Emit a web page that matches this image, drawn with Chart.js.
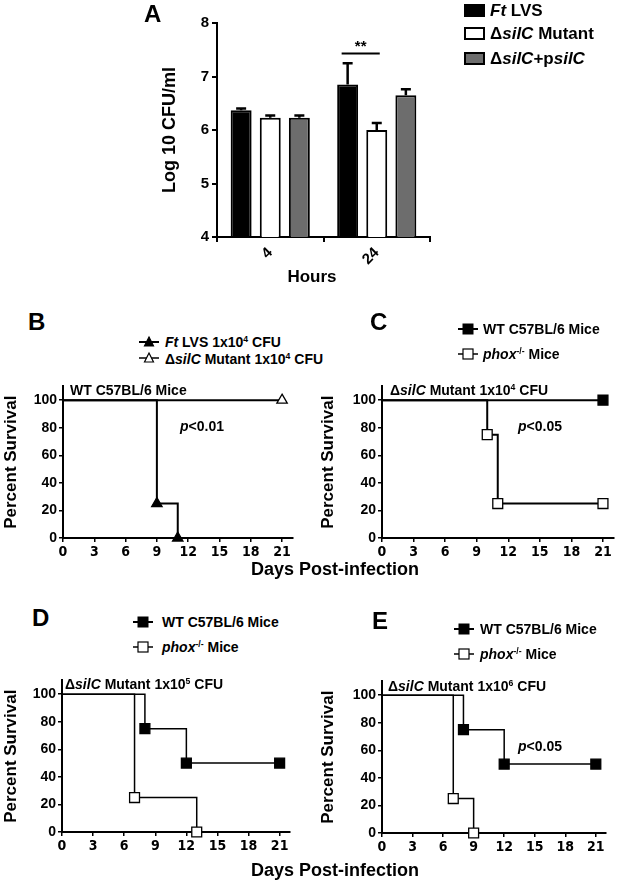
<!DOCTYPE html>
<html>
<head>
<meta charset="utf-8">
<script src="https://cdn.jsdelivr.net/npm/chart.js@4.4.1/dist/chart.umd.min.js"></script>
<style>
  body { margin: 0; background: #fff; }
  #page { position: relative; width: 625px; height: 883px; overflow: hidden;
          font-family: "Liberation Sans", Arial, sans-serif; font-weight: bold; color: #000; }
  canvas { position: absolute; }
  .t { position: absolute; white-space: nowrap; line-height: 1; transform: translateY(-50%); }
  .c { transform: translate(-50%, -50%); }
  .big { font-size: 24px; }
  .lg { font-size: 14px; }
  sup { font-size: 0.62em; vertical-align: 0.55em; line-height: 0; }
  .key { position: absolute; }
  .swatch { position: absolute; width: 21px; height: 13px; border: 2px solid #000; box-sizing: border-box; }
</style>
</head>
<body>
<div id="page">
  <canvas id="chartA" width="300" height="280" style="left:140px; top:10px"></canvas>
  <canvas id="chartB" width="300" height="190" style="left:0px; top:376px"></canvas>
  <canvas id="chartC" width="315" height="190" style="left:310px; top:376px"></canvas>
  <canvas id="chartD" width="300" height="190" style="left:0px; top:670px"></canvas>
  <canvas id="chartE" width="315" height="190" style="left:310px; top:671px"></canvas>

  <!-- panel A -->
  <div class="t big" style="left:144px; top:14px">A</div>
  <div class="swatch" style="left:464px; top:4px; background:#000"></div>
  <div class="t" style="left:490px; top:10px; font-size:17px"><i>Ft</i> LVS</div>
  <div class="swatch" style="left:464px; top:27px; background:#fff"></div>
  <div class="t" style="left:490px; top:33px; font-size:17px">Δ<i>silC</i> Mutant</div>
  <div class="swatch" style="left:464px; top:52px; background:#6d6d6d"></div>
  <div class="t" style="left:490px; top:58px; font-size:17px">Δ<i>silC</i>+p<i>silC</i></div>
  <div class="t c" style="left:312px; top:276px; font-size:17px">Hours</div>

  <!-- panel B -->
  <div class="t big" style="left:28px; top:322px">B</div>
  <svg class="key" style="left:139px; top:335px" width="20" height="14"><line x1="0" y1="7" x2="20" y2="7" stroke="#000" stroke-width="2"/><polygon points="10,2 14.5,11 5.5,11" fill="#000" stroke="#000" stroke-width="1.2"/></svg>
  <div class="t lg" style="left:165px; top:342px"><i>Ft</i> LVS 1x10<sup>4</sup> CFU</div>
  <svg class="key" style="left:139px; top:351px" width="20" height="14"><line x1="0" y1="7" x2="20" y2="7" stroke="#000" stroke-width="1.5"/><polygon points="10,2 14.5,11 5.5,11" fill="#fff" stroke="#000" stroke-width="1.2"/></svg>
  <div class="t lg" style="left:165px; top:359px">Δ<i>silC</i> Mutant 1x10<sup>4</sup> CFU</div>
  <div class="t lg" style="left:70px; top:390px">WT C57BL/6 Mice</div>
  <div class="t lg" style="left:180px; top:426px"><i>p</i>&lt;0.01</div>

  <!-- panel C -->
  <div class="t big" style="left:370px; top:322px">C</div>
  <svg class="key" style="left:458px; top:322px" width="20" height="14"><line x1="0" y1="7" x2="20" y2="7" stroke="#000" stroke-width="2"/><rect x="5" y="2" width="10" height="10" fill="#000" stroke="#000"/></svg>
  <div class="t lg" style="left:483px; top:329px">WT C57BL/6 Mice</div>
  <svg class="key" style="left:458px; top:347px" width="20" height="14"><line x1="0" y1="7" x2="20" y2="7" stroke="#000" stroke-width="1.5"/><rect x="5" y="2" width="10" height="10" fill="#fff" stroke="#000" stroke-width="1.2"/></svg>
  <div class="t lg" style="left:483px; top:354px"><i>phox</i><sup>-/-</sup> Mice</div>
  <div class="t lg" style="left:390px; top:390px">Δ<i>silC</i> Mutant 1x10<sup>4</sup> CFU</div>
  <div class="t lg" style="left:518px; top:426px"><i>p</i>&lt;0.05</div>
  <div class="t c" style="left:335px; top:569px; font-size:18px">Days Post-infection</div>

  <!-- panel D -->
  <div class="t big" style="left:32px; top:618px">D</div>
  <svg class="key" style="left:133px; top:615px" width="20" height="14"><line x1="0" y1="7" x2="20" y2="7" stroke="#000" stroke-width="2"/><rect x="5" y="2" width="10" height="10" fill="#000" stroke="#000"/></svg>
  <div class="t lg" style="left:162px; top:622px">WT C57BL/6 Mice</div>
  <svg class="key" style="left:133px; top:640px" width="20" height="14"><line x1="0" y1="7" x2="20" y2="7" stroke="#000" stroke-width="1.5"/><rect x="5" y="2" width="10" height="10" fill="#fff" stroke="#000" stroke-width="1.2"/></svg>
  <div class="t lg" style="left:162px; top:647px"><i>phox</i><sup>-/-</sup> Mice</div>
  <div class="t lg" style="left:65px; top:684px">Δ<i>silC</i> Mutant 1x10<sup>5</sup> CFU</div>

  <!-- panel E -->
  <div class="t big" style="left:372px; top:621px">E</div>
  <svg class="key" style="left:454px; top:622px" width="20" height="14"><line x1="0" y1="7" x2="20" y2="7" stroke="#000" stroke-width="2"/><rect x="5" y="2" width="10" height="10" fill="#000" stroke="#000"/></svg>
  <div class="t lg" style="left:480px; top:629px">WT C57BL/6 Mice</div>
  <svg class="key" style="left:454px; top:647px" width="20" height="14"><line x1="0" y1="7" x2="20" y2="7" stroke="#000" stroke-width="1.5"/><rect x="5" y="2" width="10" height="10" fill="#fff" stroke="#000" stroke-width="1.2"/></svg>
  <div class="t lg" style="left:480px; top:654px"><i>phox</i><sup>-/-</sup> Mice</div>
  <div class="t lg" style="left:388px; top:686px">Δ<i>silC</i> Mutant 1x10<sup>6</sup> CFU</div>
  <div class="t lg" style="left:518px; top:746px"><i>p</i>&lt;0.05</div>
  <div class="t c" style="left:335px; top:870px; font-size:18px">Days Post-infection</div>
</div>

<script>
// -----------------------------
// Panel A data (log10 CFU/ml)
// -----------------------------
const hours = ["4", "24"];
const lvsMean = [6.37, 6.85];
const lvsErr = [0.03, 0.40];
const mutMean = [6.23, 6.0];
const mutErr = [0.04, 0.13];
const compMean = [6.23, 6.65];
const compErr = [0.04, 0.11];
const cfuTicks = [4, 5, 6, 7, 8];
const sigLevel = 7.43;

// -----------------------------
// Survival data (day, percent)
// -----------------------------
const dayTicks = [0, 3, 6, 9, 12, 15, 18, 21];
const pctTicks = [0, 20, 40, 60, 80, 100];

const bLvsDays = [0, 9, 11],  bLvsPct = [100, 25, 0];
const bMutDays = [0, 21],     bMutPct = [100, 100];
const cWtDays = [0, 21],      cWtPct = [100, 100];
const cPhoxDays = [0, 10, 11, 21], cPhoxPct = [100, 75, 25, 25];
const dWtDays = [0, 8, 12, 21],    dWtPct = [100, 75, 50, 50];
const dPhoxDays = [0, 7, 13],      dPhoxPct = [100, 25, 0];
const eWtDays = [0, 8, 12, 21],    eWtPct = [100, 75, 50, 50];
const ePhoxDays = [0, 7, 9],       ePhoxPct = [100, 25, 0];

const FONT = "'Liberation Sans', Arial, sans-serif";
const NARROW = "'Liberation Sans Narrow', 'Arial Narrow', 'DejaVu Sans Condensed', Arial, sans-serif";

// -----------------------------
// Error bars + significance bar
// -----------------------------
const errorBars = {
  id: "errorBars",
  afterDatasetsDraw(chart) {
    const ctx = chart.ctx;
    const y = chart.scales.y;
    ctx.save();
    ctx.strokeStyle = "#000";
    ctx.lineWidth = 2.5;
    chart.data.datasets.forEach((ds, i) => {
      chart.getDatasetMeta(i).data.forEach((bar, j) => {
        const top = y.getPixelForValue(ds.data[j] + ds.errors[j]);
        ctx.beginPath();
        ctx.moveTo(bar.x, bar.y);
        ctx.lineTo(bar.x, top);
        ctx.moveTo(bar.x - 5, top);
        ctx.lineTo(bar.x + 5, top);
        ctx.stroke();
      });
    });

    // ** between Ft LVS and mutant at 24 h
    const b0 = chart.getDatasetMeta(0).data[1];
    const b1 = chart.getDatasetMeta(1).data[1];
    const ly = y.getPixelForValue(sigLevel);
    const x1 = b0.x - 6, x2 = b1.x + 3;
    ctx.lineWidth = 2;
    ctx.beginPath();
    ctx.moveTo(x1, ly);
    ctx.lineTo(x2, ly);
    ctx.stroke();
    ctx.fillStyle = "#000";
    ctx.font = "bold 15px " + FONT;
    ctx.textAlign = "center";
    ctx.textBaseline = "alphabetic";
    ctx.fillText("**", (x1 + x2) / 2, ly - 2);
    ctx.restore();
  }
};

function barSet(label, data, errors, fill) {
  return {
    label, data, errors,
    backgroundColor: fill,
    borderColor: "#000",
    borderWidth: 2,
    categoryPercentage: 0.82,
    barPercentage: 0.72
  };
}

new Chart(document.getElementById("chartA"), {
  type: "bar",
  data: {
    labels: hours,
    datasets: [
      barSet("Ft LVS", lvsMean, lvsErr, "#000"),
      barSet("ΔsilC Mutant", mutMean, mutErr, "#fff"),
      barSet("ΔsilC+psilC", compMean, compErr, "#6d6d6d")
    ]
  },
  options: {
    responsive: false,
    animation: false,
    layout: { padding: { top: 13, right: 10, left: 0, bottom: 0 } },
    plugins: { legend: { display: false }, tooltip: { enabled: false } },
    scales: {
      x: {
        grid: { display: true, drawOnChartArea: false, color: "#000", lineWidth: 2, tickLength: 5 },
        border: { color: "#000", width: 2 },
        ticks: { color: "#000", minRotation: 45, maxRotation: 45, padding: 2,
                 font: { family: FONT, size: 15, weight: "bold" } },
        afterFit: s => { s.height = 53; }
      },
      y: {
        min: 4, max: 8,
        afterBuildTicks: s => { s.ticks = cfuTicks.map(v => ({ value: v })); },
        grid: { display: true, drawOnChartArea: false, color: "#000", lineWidth: 2, tickLength: 5 },
        border: { color: "#000", width: 2 },
        ticks: { color: "#000", padding: 3, font: { family: FONT, size: 15, weight: "bold" } },
        title: { display: true, text: "Log 10 CFU/ml", color: "#000", padding: { top: 19, bottom: 0 },
                 font: { family: FONT, size: 18, weight: "bold" } },
        afterFit: s => { s.width = 77; }
      }
    }
  },
  plugins: [errorBars]
});

// -----------------------------
// Kaplan-Meier style panels
// -----------------------------
function curve(days, pct, style, filled, width) {
  const r = style === "triangle" ? 6 : 7;
  return {
    data: days.map((d, i) => ({ x: d, y: pct[i] })),
    stepped: "before",
    borderColor: "#000",
    borderWidth: width,
    pointStyle: style,
    pointRadius: c => (c.dataIndex === 0 ? 0 : r),
    pointBackgroundColor: filled ? "#000" : "#fff",
    pointBorderColor: "#000",
    pointBorderWidth: 1.3,
    clip: false,
    fill: false
  };
}

function survival(id, sets, g) {
  new Chart(document.getElementById(id), {
    type: "line",
    data: { datasets: sets },
    options: {
      responsive: false,
      animation: false,
      layout: { padding: { top: 10, right: g.padRight, left: 0, bottom: 0 } },
      plugins: { legend: { display: false }, tooltip: { enabled: false } },
      scales: {
        x: {
          type: "linear", min: 0, max: 22,
          afterBuildTicks: s => { s.ticks = dayTicks.map(v => ({ value: v })); },
          grid: { display: true, drawOnChartArea: false, color: "#000", lineWidth: 1.5, tickLength: 4 },
          border: { color: "#000", width: 2 },
          ticks: { color: "#000", padding: 2, maxRotation: 0, font: { family: NARROW, size: 14, weight: "bold" } },
          afterFit: s => { s.height = 28; }
        },
        y: {
          min: 0, max: 110,
          afterBuildTicks: s => { s.ticks = pctTicks.map(v => ({ value: v })); },
          grid: { display: true, drawOnChartArea: false, color: "#000", lineWidth: 1.5, tickLength: 4 },
          border: { color: "#000", width: 2 },
          ticks: { color: "#000", padding: 2, font: { family: FONT, size: 14, weight: "bold" } },
          title: { display: true, text: "Percent Survival", color: "#000", padding: { top: g.titlePad, bottom: 0 },
                   font: { family: FONT, size: 17, weight: "bold" } },
          afterFit: s => { s.width = g.yWidth; }
        }
      }
    }
  });
}

survival("chartB", [
  curve(bLvsDays, bLvsPct, "triangle", true, 2),
  curve(bMutDays, bMutPct, "triangle", false, 2)
], { yWidth: 63, padRight: 7.5, titlePad: 1 });

survival("chartC", [
  curve(cWtDays, cWtPct, "rect", true, 2),
  curve(cPhoxDays, cPhoxPct, "rect", false, 2)
], { yWidth: 72, padRight: 11.5, titlePad: 8 });

survival("chartD", [
  curve(dWtDays, dWtPct, "rect", true, 1.5),
  curve(dPhoxDays, dPhoxPct, "rect", false, 1.5)
], { yWidth: 62, padRight: 10, titlePad: 1 });

survival("chartE", [
  curve(eWtDays, eWtPct, "rect", true, 1.5),
  curve(ePhoxDays, ePhoxPct, "rect", false, 1.5)
], { yWidth: 72, padRight: 19, titlePad: 8 });
</script>
</body>
</html>
